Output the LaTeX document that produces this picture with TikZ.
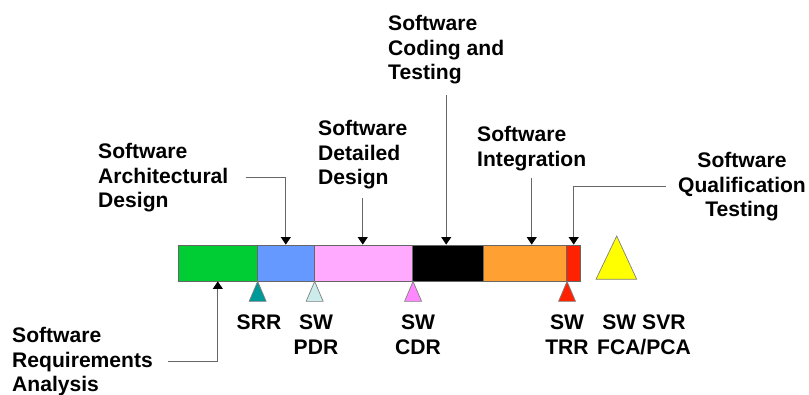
\documentclass[tikz,border=0pt]{standalone}
\usepackage{fontspec}
\setmainfont{Liberation Sans}
\usetikzlibrary{arrows.meta}

\definecolor{reqgreen}{RGB}{0,204,51}
\definecolor{archblue}{RGB}{102,153,255}
\definecolor{detpink}{RGB}{255,170,255}
\definecolor{intorange}{RGB}{255,160,51}
\definecolor{qualred}{RGB}{255,34,0}
\definecolor{srrteal}{RGB}{0,153,153}
\definecolor{pdrcyan}{RGB}{204,236,236}
\definecolor{cdrpink}{RGB}{255,136,255}
\definecolor{svryellow}{RGB}{255,255,0}

\tikzset{
  phase/.style={draw=black!60, line width=0.6pt, minimum height=1.08cm, inner sep=0pt},
  lbl/.style={font=\bfseries\fontsize{18}{21}\selectfont, inner sep=0pt, align=left},
  lead/.style={draw=black!60, line width=0.9pt, -{Triangle[width=8.5pt,length=6.5pt,color=black]}},
  mstone/.style={draw=black!50, line width=0.6pt}
}

\begin{document}
\begin{tikzpicture}[x=0.03cm, y=-0.03cm]
  \useasboundingbox (0,0) rectangle (809,395);
  % the phases
  \node[phase, fill=reqgreen, minimum width=2.37cm] (req) at (217.8,263) {};
  \node[phase, fill=archblue, minimum width=1.71cm] (arch) at (285.8,263) {};
  \node[phase, fill=detpink, minimum width=2.952cm] (det) at (363.5,263) {};
  \node[phase, fill=black, minimum width=2.118cm] (cod) at (448,263) {};
  \node[phase, fill=intorange, minimum width=2.502cm] (integ) at (525,263) {};
  \node[phase, fill=qualred, minimum width=0.42cm] (qual) at (573.7,263) {};
  % milestones
  \foreach \pt/\col in {req.south east/srrteal, arch.south east/pdrcyan,
                        det.south east/cdrpink, integ.south east/qualred}
    \draw[mstone, fill=\col] (\pt) -- ++(8.5,20) -- ++(-17,0) -- cycle;
  \draw[mstone, fill=svryellow] (616.7,236) -- (636.7,279.3) -- (596,279.3) -- cycle;
  % phase labels
  \node[lbl, anchor=north west] (reqlbl) at (12,327) {Software\\Requirements\\Analysis};
  \node[lbl, anchor=north west] (archlbl) at (98,143) {Software\\Architectural\\Design};
  \node[lbl, anchor=north west] (detlbl) at (318,120) {Software\\Detailed\\Design};
  \node[lbl, anchor=north west] (codlbl) at (388,15) {Software\\Coding and\\Testing};
  \node[lbl, anchor=north west] (intlbl) at (477,126) {Software\\Integration};
  \node[lbl, anchor=north, align=center] (qualbl) at (742,152) {Software\\Qualification\\Testing};
  % review labels
  \node[lbl, anchor=north, align=center] (srr) at (259,315) {SRR};
  \node[lbl, anchor=north, align=center] (pdr) at (316,315) {SW\\PDR};
  \node[lbl, anchor=north, align=center] (cdr) at (418,315) {SW\\CDR};
  \node[lbl, anchor=north, align=center] (trr) at (567,315) {SW\\TRR};
  \node[lbl, anchor=north, align=center] (svr) at (644,315) {SW SVR\\FCA/PCA};
  % leaders
  \draw[lead] ([xshift=0.45cm]reqlbl.east) -| (req.south);
  \draw[lead] ([xshift=0.51cm]archlbl.east) -| (arch.north);
  \draw[lead] ([yshift=-0.27cm]detlbl.south) -- (detlbl.south |- det.north);
  \draw[lead] ([yshift=-0.33cm]codlbl.south) -- (codlbl.south |- cod.north);
  \draw[lead] ([yshift=-0.23cm]intlbl.south) -- (intlbl.south |- integ.north);
  \draw[lead] ([xshift=-0.36cm]qualbl.west) -| (qual.north);
\end{tikzpicture}
\end{document}
